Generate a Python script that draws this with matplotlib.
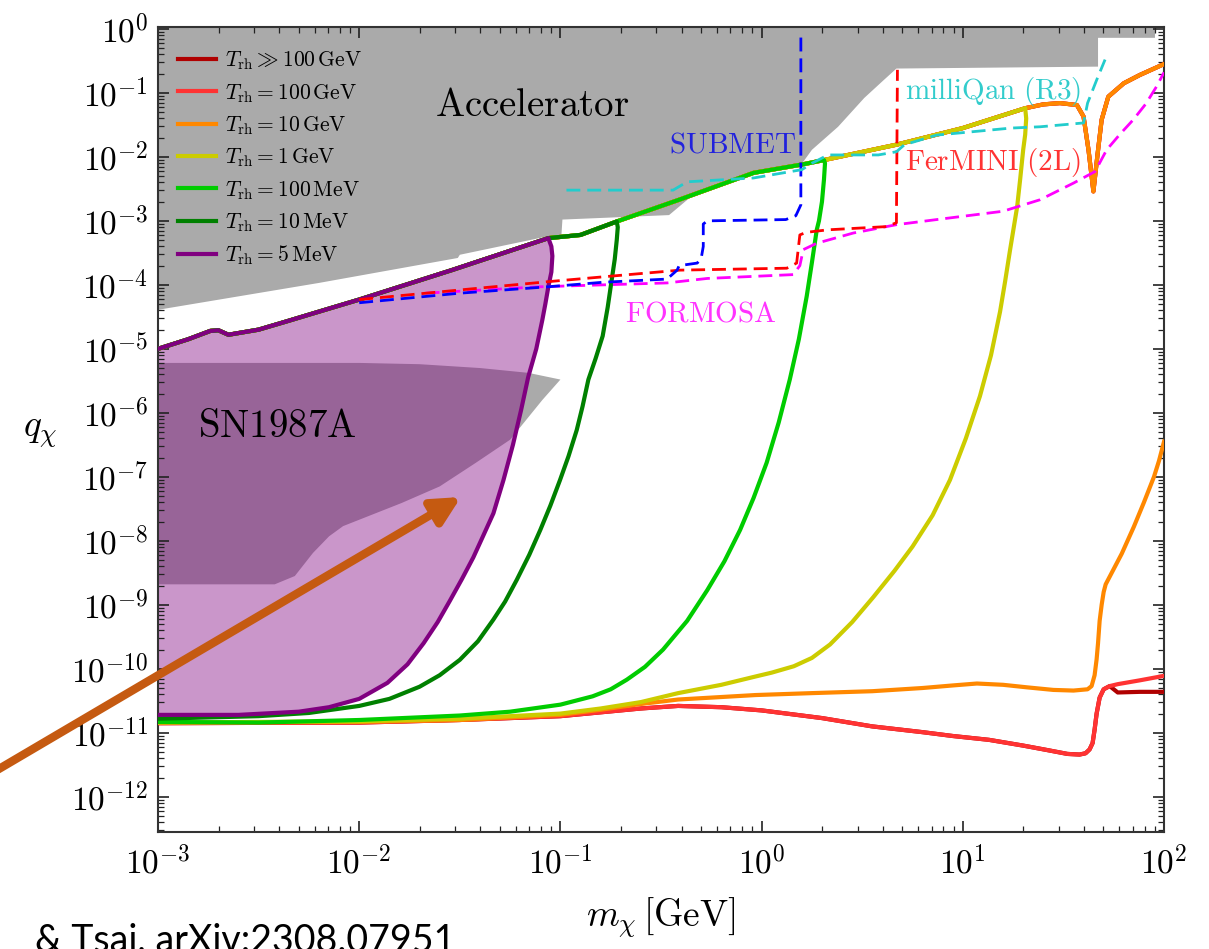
import numpy as np
import matplotlib
matplotlib.use("Agg")
import matplotlib.pyplot as plt
from matplotlib.ticker import LogLocator, FuncFormatter, NullFormatter
from matplotlib.patches import FancyArrowPatch
from matplotlib.lines import Line2D

plt.rcParams['mathtext.fontset'] = 'cm'

# all values are log10(m / GeV), log10(q)
# shared upper boundary of the reheating curves
env_lm = [-3.0, -2.85, -2.74, -2.70, -2.65, -2.5, -2.36, -2.17, -2.0, -1.77, -1.54, -1.3, -1.06,
          -0.90, -0.72, -0.41, -0.04, 0.20, 0.31, 0.67, 1.00, 1.31, 1.40, 1.483, 1.567, 1.60,
          1.625, 1.649, 1.67, 1.69, 1.723, 1.80, 1.88, 2.0]
env_lq = [-5.0, -4.85, -4.72, -4.71, -4.78, -4.70, -4.57, -4.39, -4.23, -4.0, -3.77, -3.52, -3.27,
          -3.22, -3.01, -2.67, -2.25, -2.12, -2.05, -1.81, -1.55, -1.24, -1.18, -1.16, -1.19, -1.37,
          -1.9, -2.54, -1.95, -1.42, -1.06, -0.85, -0.72, -0.55]

# T_rh = 5 MeV
purple_cut = -1.06
purple_lm = [-1.045, -1.04, -1.045, -1.06, -1.075, -1.09, -1.12, -1.16, -1.195, -1.236, -1.283,
             -1.333, -1.385, -1.433, -1.49, -1.55, -1.61, -1.68, -1.76, -1.86, -2.0, -2.15,
             -2.3, -2.6, -3.0]
purple_lq = [-3.4, -3.55, -3.8, -4.03, -4.3, -4.55, -5.0, -5.44, -5.95, -6.5, -7.05,
             -7.57, -7.93, -8.26, -8.6, -8.94, -9.27, -9.6, -9.93, -10.22, -10.47, -10.6,
             -10.67, -10.72, -10.72]
# T_rh = 10 MeV
dgreen_cut = -0.72
dgreen_lm = [-0.715, -0.72, -0.73, -0.745, -0.765, -0.79, -0.825, -0.861, -0.89, -0.919, -0.96,
             -1.002, -1.05, -1.10, -1.155, -1.217, -1.275, -1.333, -1.41, -1.50, -1.60, -1.70,
             -1.85, -2.0, -2.25, -2.5, -3.0]
dgreen_lq = [-3.1, -3.3, -3.6, -3.92, -4.35, -4.8, -5.15, -5.48, -5.9, -6.27, -6.68,
             -7.05, -7.45, -7.83, -8.22, -8.61, -8.95, -9.23, -9.57, -9.86, -10.1, -10.28,
             -10.47, -10.58, -10.69, -10.74, -10.78]
# T_rh = 100 MeV
lgreen_cut = 0.31
lgreen_lm = [0.315, 0.31, 0.30, 0.285, 0.274, 0.25, 0.224, 0.185, 0.14, 0.085, 0.025, -0.04,
             -0.107, -0.185, -0.27, -0.37, -0.49, -0.58, -0.67, -0.75, -0.84, -1.0, -1.25, -1.5,
             -2.0, -2.5, -3.0]
lgreen_lq = [-2.1, -2.35, -2.7, -3.0, -3.14, -3.65, -4.18, -4.85, -5.48, -6.15, -6.78, -7.33,
             -7.83, -8.32, -8.77, -9.25, -9.70, -9.97, -10.17, -10.32, -10.43, -10.56, -10.67, -10.73,
             -10.80, -10.84, -10.83]
# T_rh = 1 GeV
yellow_cut = 1.31
yellow_lm = [1.315, 1.31, 1.30, 1.285, 1.27, 1.235, 1.21, 1.185, 1.14, 1.085, 1.015, 0.936, 0.85,
             0.75, 0.66, 0.555, 0.45, 0.34, 0.25, 0.16, 0.05, -0.03, -0.2, -0.415, -0.6, -0.8,
             -1.0, -1.5, -2.0, -3.0]
yellow_lq = [-1.4, -1.65, -1.89, -2.35, -2.78, -3.45, -3.95, -4.42, -5.1, -5.74, -6.4, -7.05, -7.6,
             -8.09, -8.47, -8.88, -9.27, -9.62, -9.83, -9.96, -10.06, -10.12, -10.25, -10.38, -10.52,
             -10.62, -10.7, -10.78, -10.82, -10.84]
# lower branches of the heavy reheating curves
orange_lm = [2.0, 1.975, 1.95, 1.90, 1.85, 1.79, 1.73, 1.71, 1.70, 1.69, 1.68, 1.672, 1.665, 1.655,
             1.64, 1.62, 1.55, 1.45, 1.32, 1.2, 1.07, 0.95, 0.8, 0.55, 0.25, -0.03, -0.415, -0.6,
             -0.8, -1.0, -1.5, -2.0, -3.0]
orange_lq = [-6.45, -6.75, -7.0, -7.4, -7.78, -8.2, -8.56, -8.68, -8.8, -9.0, -9.25, -9.6, -9.85,
             -10.1, -10.27, -10.32, -10.34, -10.33, -10.29, -10.25, -10.23, -10.26, -10.30, -10.35,
             -10.38, -10.41, -10.48, -10.55, -10.64, -10.72, -10.8, -10.83, -10.84]
red_lm = [2.0, 1.88, 1.77, 1.73, 1.70, 1.68, 1.665, 1.655, 1.645, 1.63, 1.61, 1.58, 1.52, 1.42,
          1.3, 1.13, 0.95, 0.8, 0.55, 0.3, 0.0, -0.2, -0.415, -0.6, -0.8, -1.0, -1.5, -2.0, -3.0]
red_lq = [-10.11, -10.18, -10.24, -10.27, -10.32, -10.45, -10.7, -10.95, -11.16, -11.26, -11.32,
          -11.34, -11.33, -11.27, -11.2, -11.11, -11.05, -10.99, -10.90, -10.77, -10.65, -10.6,
          -10.58, -10.62, -10.68, -10.74, -10.8, -10.84, -10.85]
dkred_tail_lm = [2.0, 1.88, 1.77]
dkred_tail_lq = [-10.36, -10.36, -10.37]

# experimental bounds (dashed)
submet_lm = [-2.0, -1.5, -1.06, -0.79, -0.47, -0.42, -0.41, -0.32, -0.30, -0.29, -0.29, -0.27,
             0.12, 0.17, 0.195, 0.195]
submet_lq = [-4.28, -4.13, -4.03, -3.96, -3.91, -3.77, -3.70, -3.66, -3.58, -3.40, -3.05, -3.0,
             -2.98, -2.92, -2.75, -0.07]
fermini_lm = [-2.0, -1.5, -1.06, -0.77, -0.405, 0.125, 0.174, 0.19, 0.22, 0.33, 0.62, 0.67, 0.675]
fermini_lq = [-4.23, -4.08, -3.95, -3.87, -3.77, -3.74, -3.66, -3.22, -3.18, -3.14, -3.09, -3.03, -0.64]
formosa_lm = [-1.67, -1.10, -0.47, -0.27, 0.157, 0.19, 0.207, 0.274, 0.456, 0.67, 0.87, 1.20,
              1.384, 1.55, 1.657, 1.715, 1.78, 1.847, 1.91, 1.963, 2.0]
formosa_lq = [-4.13, -4.03, -3.97, -3.90, -3.84, -3.70, -3.45, -3.35, -3.19, -3.06, -2.98, -2.85,
              -2.67, -2.41, -2.23, -1.89, -1.65, -1.42, -1.17, -0.90, -0.68]
milliqan_lm = [-0.97, -0.44, -0.37, -0.04, 0.20, 0.25, 0.33, 0.58, 0.67, 0.71, 0.87, 1.24, 1.384,
               1.60, 1.62, 1.665, 1.707]
milliqan_lq = [-2.52, -2.52, -2.39, -2.33, -2.2, -2.10, -1.97, -1.97, -1.92, -1.81, -1.66, -1.55,
               -1.53, -1.47, -1.16, -0.80, -0.48]

# excluded regions
acc_lm = [-3.0, -2.2, -1.51, -1.50, -1.06, -0.995, -0.99, -0.46, -0.35, -0.04, 0.197, 0.25, 0.38,
          0.51, 0.60, 0.67, 1.672, 1.672, 1.955, 1.955]
acc_lq = [-4.39, -3.97, -3.58, -3.53, -3.24, -3.22, -2.98, -2.91, -2.62, -2.26, -2.12, -1.89, -1.53,
          -1.08, -0.82, -0.62, -0.59, -0.14, -0.14, 1.0]
sn_lm = [-3.0, -2.0, -1.7, -1.4, -1.16, -1.0, -1.09, -1.25, -1.42, -1.6, -1.79, -2.08, -2.15,
         -2.23, -2.32, -2.42, -3.0]
sn_lq = [-5.22, -5.22, -5.24, -5.30, -5.375, -5.48, -5.8, -6.42, -6.78, -7.15, -7.41, -7.77,
         -7.93, -8.19, -8.55, -8.68, -8.68]

legend_labels = [r'$T_{\rm rh} \gg 100\,{\rm GeV}$', r'$T_{\rm rh} = 100\,{\rm GeV}$',
                 r'$T_{\rm rh} = 10\,{\rm GeV}$', r'$T_{\rm rh} = 1\,{\rm GeV}$',
                 r'$T_{\rm rh} = 100\,{\rm MeV}$', r'$T_{\rm rh} = 10\,{\rm MeV}$',
                 r'$T_{\rm rh} = 5\,{\rm MeV}$']
legend_colors = ['#b00000', '#ff3333', '#ff8800', '#cccc00', '#00cc00', '#008000', '#800080']


def closed(cut, lm, lq):
    m = [a for a in env_lm if a <= cut] + lm
    q = [b for a, b in zip(env_lm, env_lq) if a <= cut] + lq
    return 10 ** np.array(m), 10 ** np.array(q)


def xy(lm, lq):
    return 10 ** np.array(lm), 10 ** np.array(lq)


fig = plt.figure(figsize=(12.09, 9.49), dpi=100)
ax = fig.add_axes([0.1307, 0.1233, 0.8321, 0.8483])
ax.set_xscale('log')
ax.set_yscale('log')
ax.set_xlim(1e-3, 1e2)
ax.set_ylim(10 ** -12.55, 10 ** 0.03)

# accelerator region
am, aq = xy(acc_lm + [-3.0], acc_lq + [1.0])
ax.fill(am, aq, color='#aaaaaa', lw=0, zorder=1)
sm, sq = xy(sn_lm, sn_lq)
ax.fill(sm, sq, color='#aaaaaa', lw=0, zorder=1.1)

pm, pq = closed(purple_cut, purple_lm, purple_lq)
ax.fill(pm, pq, color='#800080', alpha=0.41, lw=0, zorder=1.2)

lw = 3.0
em, eq = xy(env_lm, env_lq)
for c, z in [('#b00000', 3.0), ('#ff3333', 3.1), ('#ff8800', 3.2)]:
    ax.plot(em, eq, color=c, lw=lw, zorder=z)
red_rest = [(a, b) for a, b in zip(red_lm, red_lq) if a <= 1.73]
ax.plot(*xy(dkred_tail_lm + [a for a, b in red_rest], dkred_tail_lq + [b for a, b in red_rest]),
        color='#b00000', lw=lw, zorder=3.0)
ax.plot(*xy(red_lm, red_lq), color='#ff3333', lw=lw, zorder=3.1)
ax.plot(*xy(orange_lm, orange_lq), color='#ff8800', lw=lw, zorder=3.2)
ax.plot(*closed(yellow_cut, yellow_lm, yellow_lq), color='#cccc00', lw=lw, zorder=3.3)
ax.plot(*closed(lgreen_cut, lgreen_lm, lgreen_lq), color='#00cc00', lw=lw, zorder=3.4)
ax.plot(*closed(dgreen_cut, dgreen_lm, dgreen_lq), color='#008000', lw=lw, zorder=3.5)
ax.plot(pm, pq, color='#800080', lw=lw, zorder=3.6)

dash = (5, 2.5)
ax.plot(*xy(formosa_lm, formosa_lq), color='#ff00ff', lw=2, dashes=dash, zorder=4)
ax.plot(*xy(fermini_lm, fermini_lq), color='#ff0000', lw=2, dashes=dash, zorder=4.1)
ax.plot(*xy(submet_lm, submet_lq), color='#0000ff', lw=2, dashes=dash, zorder=4.2)
ax.plot(*xy(milliqan_lm, milliqan_lq), color='#22cccc', lw=2, dashes=dash, zorder=4.3)

# region labels
ax.text(10 ** -1.14, 10 ** -1.19, r'$\mathrm{Accelerator}$', fontsize=28, ha='center', va='center', zorder=5)
ax.text(10 ** -2.41, 10 ** -6.21, r'$\mathrm{SN1987A}$', fontsize=28, ha='center', va='center', zorder=5)
ax.text(10 ** -0.146, 10 ** -1.81, r'$\mathrm{SUBMET}$', fontsize=21, color='#2222dd', ha='center', va='center', zorder=5)
ax.text(10 ** 1.15, 10 ** -0.98, r'$\mathrm{milliQan\ (R3)}$', fontsize=21, color='#33cccc', ha='center', va='center', zorder=5)
ax.text(10 ** 1.15, 10 ** -2.09, r'$\mathrm{FerMINI\ (2L)}$', fontsize=21, color='#ff3333', ha='center', va='center', zorder=5)
ax.text(10 ** -0.303, 10 ** -4.45, r'$\mathrm{FORMOSA}$', fontsize=21, color='#ff33ff', ha='center', va='center', zorder=5)

handles = [Line2D([], [], color=c, lw=3) for c in legend_colors]
ax.legend(handles, legend_labels, loc='upper left', bbox_to_anchor=(0.02, 0.972), borderaxespad=0,
          borderpad=0, frameon=False, fontsize=15.5, handlelength=1.75, handletextpad=0.45,
          labelspacing=0.45)

# axes style
ax.xaxis.set_major_locator(LogLocator(base=10, numticks=100))
ax.yaxis.set_major_locator(LogLocator(base=10, numticks=100))
ax.xaxis.set_minor_locator(LogLocator(base=10, subs=np.arange(2, 10), numticks=100))
ax.yaxis.set_minor_locator(LogLocator(base=10, subs=np.arange(2, 10), numticks=100))
fmt = FuncFormatter(lambda v, p: r'$\mathrm{10}^{\mathrm{%d}}$' % round(np.log10(v)))
ax.xaxis.set_major_formatter(fmt)
ax.yaxis.set_major_formatter(fmt)
ax.xaxis.set_minor_formatter(NullFormatter())
ax.yaxis.set_minor_formatter(NullFormatter())
ax.tick_params(which='both', direction='in', top=True, right=True, color='#222222')
ax.tick_params(which='major', length=8, width=1.2, labelsize=24)
ax.tick_params(which='minor', length=4, width=0.9)
ax.tick_params(axis='x', pad=10)
ax.tick_params(axis='y', pad=7)
for s in ax.spines.values():
    s.set_linewidth(1.5)
    s.set_color('#333333')

ax.set_xlabel(r'$m_\chi\,[\mathrm{GeV}]$', fontsize=27, va='center')
ax.xaxis.set_label_coords(0.5, -0.107)
ax.set_ylabel(r'$q_\chi$', fontsize=27, rotation=0, ha='center', va='center')
ax.yaxis.set_label_coords(-0.117, 0.497)

# slide annotations
arrow = FancyArrowPatch((-0.0165, 0.178), (0.3813, 0.4763), transform=fig.transFigure,
                        arrowstyle='-|>,head_length=0.83,head_width=0.42', mutation_scale=20,
                        color='#c55a11', lw=6, shrinkA=0, shrinkB=0, zorder=10)
fig.add_artist(arrow)
fig.text(455 / 1209, -3 / 949, '& Tsai, arXiv:2308.07951', ha='right', va='baseline',
         fontsize=27, family='Lato', color='black')

fig.savefig('out.png', dpi=100)
